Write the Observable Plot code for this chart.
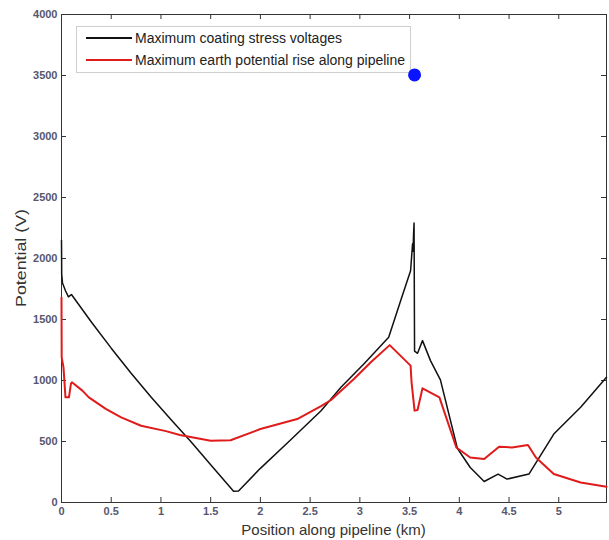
<!DOCTYPE html>
<html>
<head>
<meta charset="utf-8">
<script src="https://cdn.jsdelivr.net/npm/d3@7"></script>
<script src="https://cdn.jsdelivr.net/npm/@observablehq/plot@0.6"></script>
<style>
  body { margin: 0; background: #fff; font-family: "Liberation Sans", Arial, sans-serif; }
  #wrap { position: relative; width: 609px; height: 540px; }
  #legend { position: absolute; left: 76px; top: 26px; width: 335px; height: 47px; border: 1px solid #cfcfcf; background: #fff; box-sizing: border-box; font-size: 14px; color: #222; }
  .row { position: absolute; left: 9px; display: flex; align-items: center; white-space: nowrap; }
  .sw { width: 46px; height: 0; margin-right: 3px; }
</style>
</head>
<body>
<div id="wrap">
  <div id="chart"></div>
  <div id="legend"></div>
</div>
<script>
// Series: Maximum coating stress voltages (black)
const blackX = [0, 0.002, 0.01, 0.04, 0.07, 0.1, 0.3, 0.5, 0.7, 0.9, 1.1, 1.3, 1.5, 1.6, 1.73, 1.78, 2.0, 2.3, 2.61, 2.81, 3.04, 3.29, 3.41, 3.51, 3.53, 3.535, 3.54, 3.545, 3.55, 3.58, 3.63, 3.71, 3.81, 3.98, 4.11, 4.25, 4.39, 4.48, 4.70, 4.95, 5.22, 5.48];
const blackY = [2150, 1870, 1800, 1736, 1685, 1705, 1480, 1265, 1060, 865, 680, 500, 310, 215, 93, 95, 280, 510, 752, 944, 1136, 1354, 1654, 1900, 2120, 2060, 2200, 2290, 1240, 1223, 1327, 1163, 1005, 445, 287, 172, 233, 192, 233, 561, 780, 1026];
// Series: Maximum earth potential rise along pipeline (red)
const redX = [0, 0.002, 0.02, 0.04, 0.075, 0.095, 0.105, 0.21, 0.275, 0.445, 0.6, 0.8, 1.05, 1.19, 1.5, 1.7, 2.0, 2.37, 2.61, 2.71, 2.94, 3.11, 3.30, 3.51, 3.52, 3.55, 3.58, 3.63, 3.80, 3.97, 4.11, 4.25, 4.40, 4.53, 4.69, 4.77, 4.95, 5.22, 5.48];
const redY = [1680, 1190, 1108, 862, 862, 975, 985, 917, 862, 767, 698, 629, 585, 553, 506, 510, 602, 684, 790, 840, 1013, 1149, 1290, 1122, 985, 753, 758, 936, 862, 451, 369, 356, 457, 451, 471, 369, 233, 164, 129];
// Highlighted point
const dotX = [3.55];
const dotY = [3505];
// Axis ticks and labels
const xTicks = [0, 0.5, 1, 1.5, 2, 2.5, 3, 3.5, 4, 4.5, 5];
const yTicks = [0, 500, 1000, 1500, 2000, 2500, 3000, 3500, 4000];
const xLabel = "Position along pipeline (km)";
const yLabel = "Potential (V)";
const seriesNames = ["Maximum coating stress voltages", "Maximum earth potential rise along pipeline"];
const seriesColors = ["#111111", "#e01b1b"];

const black = blackX.map((x, i) => ({x, y: blackY[i]}));
const red = redX.map((x, i) => ({x, y: redY[i]}));
const dots = dotX.map((x, i) => ({x, y: dotY[i]}));

const W = 609, H = 540, mT = 14, mB = 38, mL = 61, mR = 3;
const frameH = H - mT - mB, frameW = W - mL - mR, tk = 5;
const tickColor = "#56566e";

const chart = Plot.plot({
  width: W, height: H,
  marginTop: mT, marginBottom: mB, marginLeft: mL, marginRight: mR,
  style: {fontFamily: "Liberation Sans, Arial, sans-serif", background: "#fff"},
  x: {domain: [0, 5.48]},
  y: {domain: [0, 4000]},
  marks: [
    Plot.axisX(xTicks, {tickSize: 0, tickPadding: 5, tickFormat: d => String(d), fontSize: 11, fontWeight: "bold", fill: tickColor, label: null}),
    Plot.axisY(yTicks, {tickSize: 0, tickPadding: 4, tickFormat: d => String(d), fontSize: 11, fontWeight: "bold", fill: tickColor, label: null}),
    Plot.ruleX(xTicks, {x: d => d, insetTop: frameH - tk, stroke: "#333"}),
    Plot.ruleX(xTicks, {x: d => d, insetBottom: frameH - tk, stroke: "#333"}),
    Plot.ruleY(yTicks, {y: d => d, insetRight: frameW - tk, stroke: "#333"}),
    Plot.ruleY(yTicks, {y: d => d, insetLeft: frameW - tk, stroke: "#333"}),
    Plot.frame({stroke: "#333", strokeWidth: 1}),
    Plot.line(black, {x: "x", y: "y", stroke: seriesColors[0], strokeWidth: 1.5}),
    Plot.line(red, {x: "x", y: "y", stroke: seriesColors[1], strokeWidth: 2})
  ]
});

// axis titles as real text in the svg
const svg = d3.select(chart);
svg.append("text").attr("x", mL + frameW / 2).attr("y", 531).attr("text-anchor", "middle")
  .attr("dominant-baseline", "middle").attr("font-size", 15).attr("fill", "#333").text(xLabel);
svg.append("text").attr("transform", `translate(22,${mT + frameH / 2}) rotate(-90)`).attr("text-anchor", "middle")
  .attr("dominant-baseline", "middle").attr("font-size", 15).attr("fill", "#333")
  .attr("textLength", 98).attr("lengthAdjust", "spacingAndGlyphs").text(yLabel);

document.getElementById("chart").appendChild(chart);

const legend = document.getElementById("legend");
seriesNames.forEach((name, i) => {
  const row = document.createElement("div");
  row.className = "row";
  row.style.top = (i === 0 ? 3 : 25) + "px";
  row.innerHTML = `<span class="sw" style="border-top:2px solid ${seriesColors[i]}"></span><span>${name}</span>`;
  legend.appendChild(row);
});

// blue dot drawn on top of legend via a second overlay plot
const dotPlot = Plot.plot({
  width: W, height: H,
  marginTop: mT, marginBottom: mB, marginLeft: mL, marginRight: mR,
  x: {domain: [0, 5.48], axis: null},
  y: {domain: [0, 4000], axis: null},
  style: {background: "transparent"},
  marks: [Plot.dot(dots, {x: "x", y: "y", r: 6.5, fill: "#0a14ff"})]
});
dotPlot.style.position = "absolute";
dotPlot.style.left = "0px";
dotPlot.style.top = "0px";
dotPlot.style.pointerEvents = "none";
document.getElementById("wrap").appendChild(dotPlot);
</script>
</body>
</html>
